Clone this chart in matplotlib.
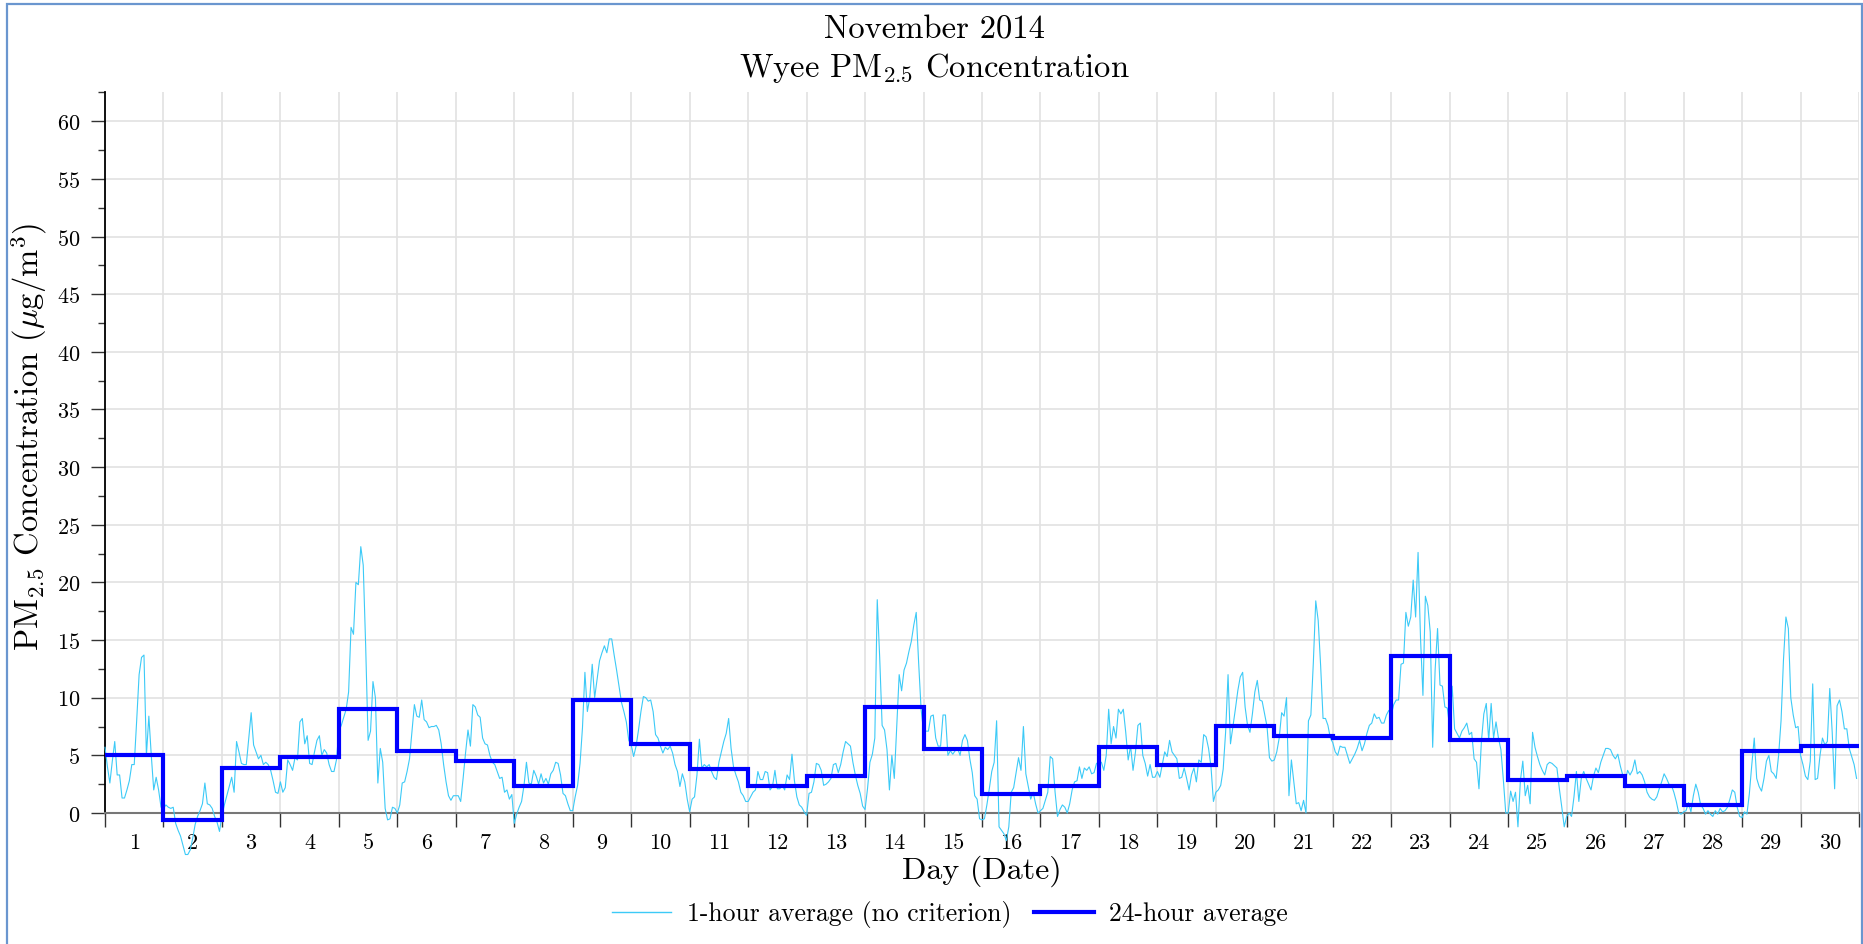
import numpy as np
import matplotlib
matplotlib.use("Agg")
import matplotlib.pyplot as plt
from matplotlib.patches import Rectangle
from matplotlib.lines import Line2D

plt.rcParams['font.family'] = ['cmr10', 'DejaVu Serif']
plt.rcParams['mathtext.fontset'] = 'cm'
plt.rcParams['axes.formatter.use_mathtext'] = True

# ---- data ----
day_labels = [str(d) for d in range(1, 31)]

# hourly PM2.5, 24 values per day (day 1 .. day 30)
hourly_pm25 = [
    5.7, 4.0, 2.6, 4.5, 6.2, 3.3, 3.3, 1.3, 1.3, 2.0, 2.8, 4.2, 4.2, 8.0, 12.0, 13.5, 13.7, 5.0, 8.4, 5.0, 2.0, 3.1, 2.0, 0.5,
    0.4, 0.7, 0.5, 0.4, 0.5, -0.9, -1.5, -2.0, -2.8, -3.6, -3.6, -3.2, -2.2, -1.0, -0.3, 0.2, 0.8, 2.6, 0.8, 0.7, 0.4, -0.3, -0.8, -1.6,
    -0.2, 0.7, 1.5, 2.3, 3.1, 1.8, 6.2, 5.3, 4.3, 4.2, 4.2, 6.5, 8.7, 5.9, 5.3, 4.7, 5.0, 4.2, 4.4, 4.2, 3.7, 2.8, 1.8, 1.7,
    2.7, 1.8, 2.2, 4.6, 4.2, 3.7, 4.8, 4.6, 7.9, 8.2, 6.0, 6.7, 4.3, 4.2, 5.3, 6.3, 6.7, 5.0, 5.5, 5.2, 4.2, 3.6, 3.6, 4.6,
    7.1, 7.6, 8.3, 9.0, 10.5, 16.1, 15.5, 20.0, 19.8, 23.1, 21.5, 14.5, 6.3, 7.1, 11.4, 10.0, 2.6, 5.6, 4.4, 0.4, -0.6, -0.5, 0.5, 0.4,
    0.0, 0.7, 2.6, 2.7, 3.6, 4.7, 7.1, 9.4, 8.4, 8.3, 9.8, 8.1, 7.9, 7.4, 7.5, 7.5, 7.6, 7.2, 6.0, 4.2, 2.7, 1.5, 1.1, 1.5,
    1.5, 1.5, 1.0, 3.0, 5.2, 7.2, 5.8, 9.4, 9.2, 8.5, 8.3, 6.5, 6.0, 5.9, 5.0, 4.4, 4.2, 3.6, 3.0, 3.1, 1.8, 2.0, 1.2, 1.6,
    -0.9, -0.1, 0.5, 1.0, 2.4, 4.4, 2.6, 2.5, 3.7, 3.2, 2.5, 3.4, 2.6, 3.0, 2.5, 3.4, 3.7, 4.4, 4.3, 3.3, 1.7, 1.5, 0.8, 0.2,
    0.2, 1.4, 2.4, 4.3, 7.4, 12.2, 8.8, 10.0, 12.9, 10.0, 11.6, 13.2, 13.9, 14.5, 13.9, 15.1, 15.1, 13.7, 12.4, 11.0, 9.6, 8.8, 7.9, 6.3,
    5.9, 4.9, 5.8, 7.2, 8.8, 10.1, 10.0, 9.7, 9.8, 8.8, 6.8, 6.5, 5.8, 5.2, 5.7, 5.5, 5.8, 5.2, 4.2, 3.6, 2.3, 3.4, 2.7, 1.2,
    0.1, 1.2, 1.4, 3.3, 6.4, 3.9, 4.2, 4.0, 4.2, 3.6, 3.1, 2.9, 4.4, 5.3, 6.2, 6.9, 8.2, 5.6, 4.0, 3.3, 2.7, 1.8, 1.5, 1.0,
    1.0, 1.4, 1.8, 2.0, 3.6, 2.9, 2.9, 3.6, 3.5, 2.0, 2.3, 3.7, 2.1, 2.1, 2.4, 2.0, 3.3, 2.9, 5.1, 2.8, 1.4, 0.7, 0.5, 0.1,
    -0.2, 1.7, 1.8, 2.7, 4.3, 4.2, 3.7, 2.4, 2.5, 2.7, 3.0, 4.2, 4.3, 3.5, 4.2, 5.3, 6.2, 6.0, 5.8, 4.4, 3.3, 2.4, 1.7, 0.6,
    0.3, 2.1, 4.4, 5.1, 6.5, 18.5, 13.5, 7.6, 7.2, 5.5, 2.0, 5.0, 3.0, 7.5, 12.0, 10.6, 12.4, 13.0, 14.0, 14.9, 16.3, 17.4, 13.0, 9.0,
    7.1, 7.1, 7.1, 8.4, 8.5, 6.5, 5.8, 5.8, 8.5, 8.5, 5.0, 5.4, 5.1, 5.4, 5.6, 5.0, 6.3, 6.8, 6.3, 4.7, 3.5, 1.5, 1.2, -0.5,
    -0.6, -0.5, 0.7, 2.1, 3.6, 4.4, 8.0, -1.2, -1.5, -1.8, -2.4, -1.2, 1.8, 2.2, 3.5, 4.8, 3.7, 7.5, 3.4, 2.3, 1.2, 1.8, 0.8, 0.0,
    0.2, 0.4, 1.1, 1.8, 4.9, 4.7, 1.8, -0.3, 0.3, 0.7, 0.5, 0.0, 0.8, 2.0, 2.7, 2.8, 4.0, 3.0, 3.9, 3.7, 4.0, 3.4, 3.5, 4.3,
    4.4, 4.4, 3.7, 5.0, 9.0, 6.0, 7.5, 6.5, 9.0, 8.6, 9.0, 7.0, 4.6, 5.8, 3.7, 5.3, 7.6, 7.8, 5.0, 4.3, 3.2, 4.2, 3.1, 3.1,
    3.6, 3.1, 4.2, 5.3, 4.9, 6.3, 5.3, 5.0, 4.7, 3.0, 3.1, 3.9, 3.0, 2.0, 3.3, 3.9, 2.7, 4.6, 4.4, 6.8, 6.6, 5.6, 4.0, 1.0,
    1.8, 2.0, 2.4, 3.8, 7.0, 12.0, 6.0, 7.5, 9.0, 10.6, 11.8, 12.2, 9.2, 7.6, 7.0, 8.6, 10.5, 11.5, 9.8, 9.7, 8.6, 7.5, 4.8, 4.5,
    4.6, 5.3, 6.5, 8.7, 8.4, 10.0, 1.5, 4.6, 2.7, 0.8, 0.9, 0.2, 1.1, 0.0, 8.0, 8.5, 13.0, 18.4, 16.7, 12.8, 8.2, 8.2, 7.6, 6.5,
    6.1, 5.3, 5.0, 5.8, 5.7, 5.7, 5.0, 4.3, 4.7, 5.1, 5.6, 6.3, 5.4, 6.0, 6.9, 7.6, 7.8, 8.6, 8.2, 8.3, 7.8, 7.8, 8.5, 8.9,
    8.5, 9.4, 9.8, 9.8, 12.9, 13.0, 17.4, 16.2, 17.0, 20.2, 17.0, 22.6, 15.2, 10.2, 18.8, 18.0, 15.7, 5.7, 12.4, 16.0, 11.1, 11.0, 9.2, 9.1,
    7.4, 11.0, 7.3, 6.9, 6.5, 7.1, 7.4, 7.8, 6.8, 7.0, 4.7, 4.4, 2.1, 6.2, 8.6, 9.5, 6.3, 9.5, 6.5, 7.9, 6.5, 5.5, 2.9, 0.0,
    0.0, 1.9, 1.0, 1.8, -1.2, 2.8, 4.5, 1.5, 2.4, 0.8, 7.0, 5.7, 4.9, 4.2, 3.7, 3.3, 4.2, 4.4, 4.3, 4.1, 3.9, 2.1, 0.5, -1.2,
    -0.3, 0.0, -0.3, 1.4, 3.6, 1.0, 3.0, 3.6, 3.0, 2.5, 2.0, 3.2, 3.9, 3.5, 4.4, 5.0, 5.6, 5.6, 5.5, 5.0, 4.7, 5.1, 4.1, 3.3,
    2.7, 3.7, 3.3, 3.7, 4.6, 3.4, 3.6, 3.3, 2.7, 1.8, 1.4, 1.2, 1.1, 1.4, 2.1, 2.7, 3.4, 3.0, 2.5, 2.4, 1.8, 1.0, 0.0, -0.1,
    0.1, 0.2, 0.9, 0.1, 1.5, 2.5, 1.8, 0.7, 0.4, -0.1, 0.2, -0.1, -0.3, 0.2, -0.1, 0.4, 0.1, 0.2, 0.5, 1.2, 2.0, 1.8, 0.5, -0.3,
    -0.4, 0.1, -0.1, 1.7, 4.2, 6.5, 3.0, 2.3, 1.9, 3.0, 4.5, 5.0, 3.6, 3.4, 3.0, 5.0, 8.0, 13.3, 17.0, 16.0, 10.0, 8.5, 7.4, 7.5,
    5.0, 4.2, 3.2, 2.9, 4.5, 11.2, 2.9, 3.0, 5.0, 6.5, 5.9, 6.2, 10.8, 7.0, 2.1, 9.3, 9.8, 8.8, 7.3, 7.3, 5.6, 4.9, 4.2, 3.0,
]

# 24-hour averages, one per day
daily_avg_24h = [5.0, -0.64, 3.87, 4.85, 9.04, 5.4, 4.5, 2.35, 9.83, 6.0,
                 3.78, 2.35, 3.23, 9.19, 5.55, 1.69, 2.35, 5.73, 4.16, 7.56,
                 6.7, 6.54, 13.6, 6.34, 2.85, 3.23, 2.35, 0.67, 5.4, 5.78]

n_days = len(daily_avg_24h)
hours_x = np.arange(len(hourly_pm25)) / 24.0
day_edges = np.arange(n_days + 1)

fig = plt.figure(figsize=(18.63, 9.45), dpi=100)
ax = fig.add_axes([105 / 1863, 1 - 814 / 945, 1754 / 1863, 720.6 / 945])

ax.plot(hours_x, hourly_pm25, color='#3ccaf7', lw=0.8, clip_on=False, zorder=3)
ax.stairs(daily_avg_24h, day_edges, baseline=None, color='#0000ff', lw=3.0,
          clip_on=False, zorder=4)

ax.set_xlim(0, n_days)
ax.set_ylim(0, 62.5)

# y ticks
ax.set_yticks(np.arange(0, 61, 5))
ax.set_yticks(np.arange(2.5, 63, 5), minor=True)
ax.tick_params(axis='y', which='major', length=10, width=1, pad=8, labelsize=16, color='#333333')
ax.tick_params(axis='y', which='minor', length=5, width=1, color='#333333')

# x ticks: marks at day edges, labels at day centres
ax.set_xticks(day_edges)
ax.set_xticklabels([])
ax.set_xticks(np.arange(n_days) + 0.5, minor=True)
ax.set_xticklabels(day_labels, minor=True)
ax.tick_params(axis='x', which='major', length=10, width=1, color='#333333')
ax.tick_params(axis='x', which='minor', length=0, pad=14, labelsize=16)

ax.grid(True, which='major', color='#e2e2e2', lw=1.2, zorder=0)
ax.set_axisbelow(True)

ax.spines['top'].set_visible(False)
ax.spines['right'].set_visible(False)
ax.spines['left'].set_color('black')
ax.spines['left'].set_linewidth(1.3)
ax.spines['bottom'].set_color('#777777')
ax.spines['bottom'].set_linewidth(1.5)

# titles and labels
fig.text(934 / 1863, 1 - 30 / 945, 'November 2014', ha='center', va='center', fontsize=23.5)
fig.text(934 / 1863, 1 - 68 / 945, r'Wyee PM$_{2.5}$ Concentration', ha='center', va='center', fontsize=23.5)
fig.text(982 / 1863, 1 - 871 / 945, 'Day (Date)', ha='center', va='center', fontsize=23)
fig.text(29 / 1863, 1 - 437 / 945, r'PM$_{2.5}$ Concentration ($\mu$g/m$^{3}$)', rotation=90,
         ha='center', va='center', fontsize=23.5)

handles = [Line2D([], [], color='#3ccaf7', lw=1.0),
           Line2D([], [], color='#0000ff', lw=3.0)]
fig.legend(handles, ['1-hour average (no criterion)', '24-hour average'],
           loc='center', bbox_to_anchor=(950 / 1863, 1 - 915 / 945), ncol=2,
           frameon=False, fontsize=18.5, handlelength=2.3, handletextpad=0.6,
           columnspacing=0.9)

# light blue frame around the chart
fig.patches.append(Rectangle((7 / 1863, -0.05), 1855 / 1863, 1.05 - 5 / 945,
                             transform=fig.transFigure, fill=False,
                             edgecolor='#6a96cf', lw=1.6))

fig.savefig('out.png', dpi=100)
